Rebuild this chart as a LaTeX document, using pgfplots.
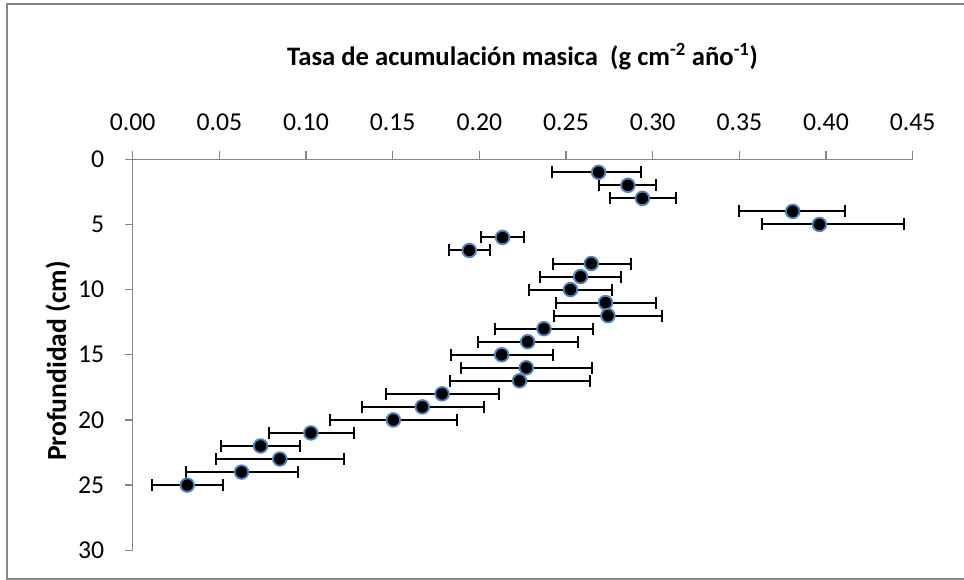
\documentclass[border=0pt]{standalone}
\usepackage{fontspec}
\setmainfont{Carlito}
\usepackage{pgfplots}
\usepackage{pgfplotstable}
\pgfplotsset{compat=1.18}
\definecolor{axgray}{HTML}{868686}
\definecolor{mkblue}{HTML}{4F81BD}

\pgfplotstableread{
x y em ep
0.2688 1 0.0267 0.0242
0.2857 2 0.0164 0.0161
0.2941 3 0.0190 0.0194
0.3808 4 0.0308 0.0302
0.3962 5 0.0333 0.0490
0.2134 6 0.0122 0.0124
0.1942 7 0.0119 0.0121
0.2646 8 0.0223 0.0228
0.2584 9 0.0232 0.0233
0.2526 10 0.0238 0.0242
0.2728 11 0.0286 0.0290
0.2742 12 0.0312 0.0311
0.2373 13 0.0283 0.0282
0.2279 14 0.0289 0.0290
0.2129 15 0.0292 0.0294
0.2271 16 0.0375 0.0378
0.2232 17 0.0403 0.0408
0.1785 18 0.0323 0.0328
0.1671 19 0.0347 0.0354
0.1504 20 0.0363 0.0365
0.1028 21 0.0242 0.0248
0.0738 22 0.0229 0.0225
0.0849 23 0.0371 0.0371
0.0628 24 0.0323 0.0323
0.0315 25 0.0205 0.0208
}\datatable

\begin{document}
\begin{tikzpicture}
\useasboundingbox (0,0) rectangle (723pt,435pt);
\draw[axgray, line width=1.5pt] (723pt,432pt) -- (5.25pt,432pt) -- (5.25pt,0.75pt) -- (723pt,0.75pt);
\begin{axis}[
  at={(99.5pt,22.3pt)}, anchor=south west,
  scale only axis, width=585pt, height=293.25pt,
  xmin=0, xmax=0.45, ymin=-30, ymax=0,
  axis x line*=top, axis y line*=left,
  axis line style={axgray, line width=1.1pt, -},
  tick align=outside,
  major tick length=6pt,
  every tick/.style={draw=none},
  xtick={0,0.05,...,0.45},
  ytick={-30,-25,...,0},
  yticklabel={\pgfmathparse{-\tick}\pgfmathprintnumber[fixed,precision=0]{\pgfmathresult}},
  minor tick num=0,
  /pgf/number format/assume math mode=true,
  xticklabel style={font=\fontsize{19.3}{23}\selectfont, yshift=12pt, /pgf/number format/.cd, fixed, fixed zerofill, precision=2},
  yticklabel style={font=\fontsize{19.3}{23}\selectfont, xshift=-11.8pt},
  clip=false,
]
\addplot[only marks, mark=*, mark size=5.1pt,
  mark options={fill=black, draw=mkblue, line width=1.4pt},
  y filter/.expression={-y},
  error bars/.cd, x dir=both, x explicit,
  error bar style={black, line width=1.5pt},
  error mark=|,
  error mark options={black, line width=1.5pt, mark size=4.5pt}]
  table[x=x, y=y, x error minus=em, x error plus=ep] {\datatable};
\end{axis}
% axis tick marks (outside)
\foreach \k in {0,...,9} \draw[axgray, line width=1.1pt] ({99.5pt+\k*65pt},315.55pt) -- ++(0,6pt);
\foreach \j in {0,...,6} \draw[axgray, line width=1.1pt] (99.5pt,{22.3pt+\j*48.875pt}) -- ++(-6pt,0);
\node[anchor=base, font=\bfseries\fontsize{20}{24}\selectfont] at (391.9pt,386pt)
  {Tasa de acumulación masica\ \ (g cm\textsuperscript{-2} año\textsuperscript{-1})};
\node[rotate=90, font=\bfseries\fontsize{20.7}{24}\selectfont] at (43.5pt,164.25pt) {Profundidad (cm)};
\end{tikzpicture}
\end{document}
